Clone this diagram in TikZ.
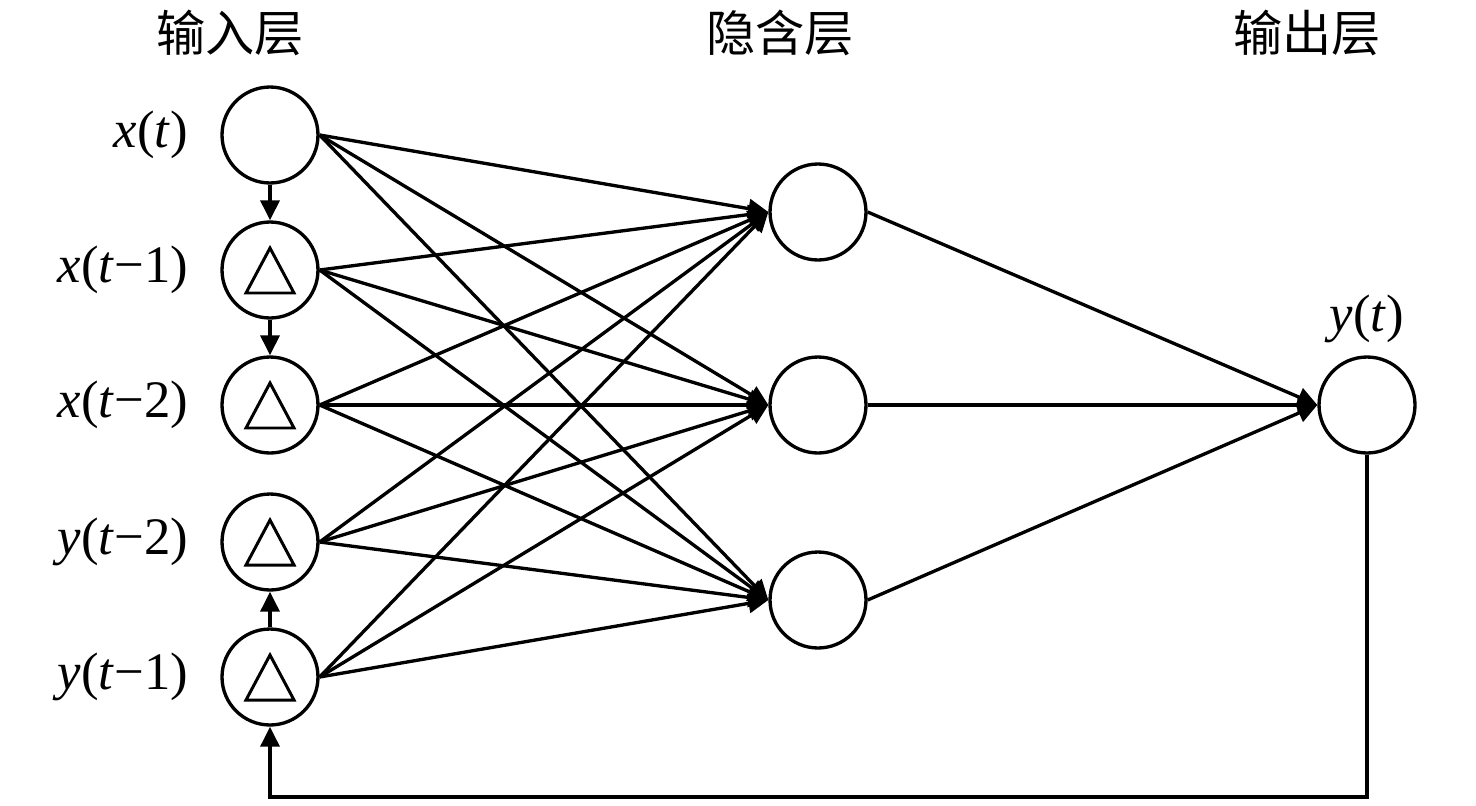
\documentclass[tikz,border=0pt]{standalone}
\usepackage{fontspec}
\setmainfont{Liberation Serif}
\newfontfamily\cjk{Noto Sans CJK SC}
\usetikzlibrary{
  arrows.meta,
  positioning,
}
\tikzstyle{arrow} = [
  -{Triangle[length=0.4cm,width=0.38cm]},
  line width=1.9pt,
]
\tikzstyle{neuron} = [
  circle,
  draw,
  line width=1.9pt,
  minimum size=1.92cm,
  inner sep=0pt,
]
\tikzstyle{delay} = [
  neuron,
  path picture={\draw[line width=1.7pt, line join=miter]
    (path picture bounding box.center) ++(-0.48cm,-0.46cm)
    -- ++(0.96cm,0cm) -- ++(-0.48cm,0.9cm) -- cycle;},
]

\begin{document}
\begin{tikzpicture}[x=0.02cm, y=-0.02cm,
                    lab/.style={inner sep=0pt, font=\fontsize{30}{34}\selectfont},
                    head/.style={inner sep=0pt, font=\cjk\fontsize{28}{32}\selectfont}]
    \useasboundingbox (0,0) rectangle (1476,805);
    % layer titles
    \node [head] (tin) at (230,33) {输入层};
    \node [head] (thid) at (780,33) {隐含层};
    \node [head] (tout) at (1307,33) {输出层};
    % input layer
    \node [neuron] (in1) at (270,135) {};
    \node [delay] (in2) at (270,270) {};
    \node [delay] (in3) at (270,405) {};
    \node [delay] (in4) at (270,542) {};
    \node [delay] (in5) at (270,677) {};
    \node [lab, left=0.64cm of in1] (l1) {\textit{x}(\textit{t})};
    \node [lab, left=0.64cm of in2] (l2) {\textit{x}(\textit{t}−1)};
    \node [lab, left=0.64cm of in3] (l3) {\textit{x}(\textit{t}−2)};
    \node [lab, left=0.64cm of in4] (l4) {\textit{y}(\textit{t}−2)};
    \node [lab, left=0.64cm of in5] (l5) {\textit{y}(\textit{t}−1)};
    % hidden and output layer
    \node [neuron] (h1) at (818,212) {};
    \node [neuron] (h2) at (818,405) {};
    \node [neuron] (h3) at (818,600) {};
    \node [neuron] (out) at (1367,405) {};
    \node [lab, above=0.24cm of out] (lout) {\textit{y}(\textit{t})};
    \coordinate (fb1) at (1367,797);
    \coordinate (fb2) at (270,797);
    % connections
    \draw [arrow] (in1) -- (in2);
    \draw [arrow] (in2) -- (in3);
    \draw [arrow] (in5) -- (in4);
    \foreach \i in {1,...,5}
      \foreach \j in {1,2,3}
        \draw [arrow] (in\i.east) -- (h\j.west);
    \foreach \j in {1,2,3}
      \draw [arrow] (h\j.east) -- (out.west);
    \draw [arrow] (out.south) -- (fb1) -- (fb2) -- (in5.south);
\end{tikzpicture}
\end{document}
